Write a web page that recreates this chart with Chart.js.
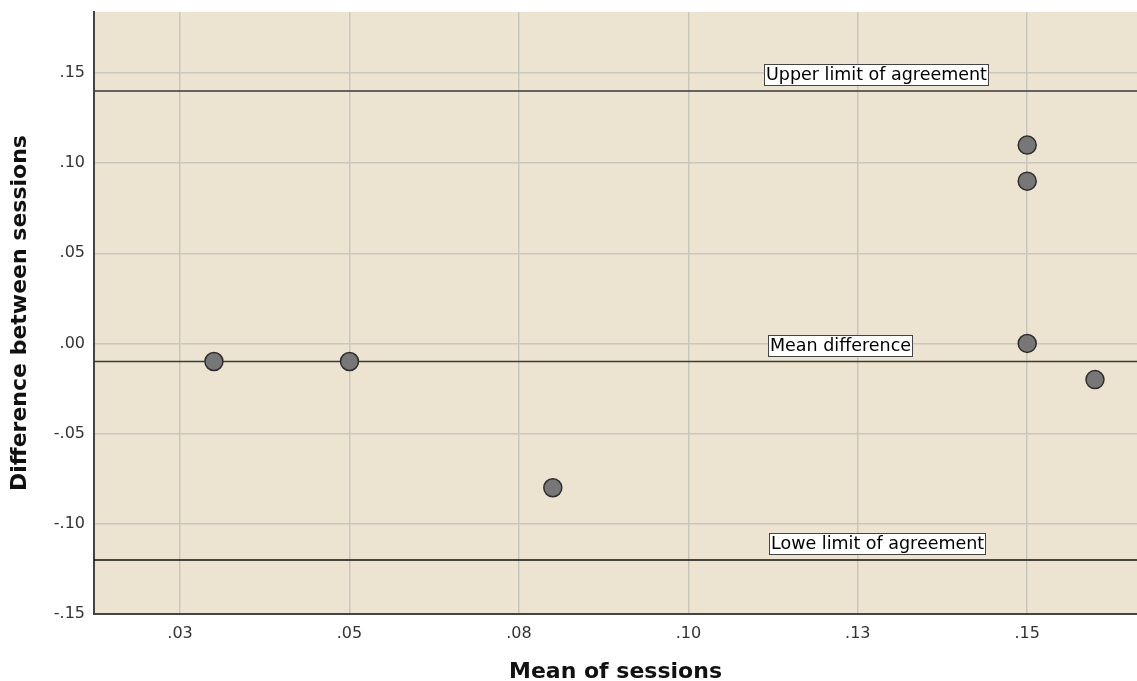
<!DOCTYPE html>
<html>
<head>
<meta charset="utf-8">
<script src="https://cdn.jsdelivr.net/npm/chart.js@4.4.0/dist/chart.umd.min.js"></script>
<style>
  html, body { margin: 0; padding: 0; background: #fff; }
  #wrap { width: 1137px; height: 681px; position: relative; }
</style>
</head>
<body>
<div id="wrap"><canvas id="mainChart"></canvas></div>
<script>
// === DATA ===
const meanValues = [0.03, 0.05, 0.08, 0.15, 0.15, 0.15, 0.16];
const diffValues = [-0.01, -0.01, -0.08, 0.11, 0.09, 0.00, -0.02];

const refNames = ['Upper limit of agreement', 'Mean difference', 'Lowe limit of agreement'];
const refValues = [0.14, -0.01, -0.12];
const refLabelX = [0.1112, 0.1118, 0.1119];

const xTickValues = [0.025, 0.05, 0.075, 0.10, 0.125, 0.15];
const xTickLabels = ['.03', '.05', '.08', '.10', '.13', '.15'];
const yTickValues = [-0.15, -0.10, -0.05, 0.00, 0.05, 0.10, 0.15];
const yTickLabels = ['-.15', '-.10', '-.05', '.00', '.05', '.10', '.15'];

const xMin = 0.0123, xMax = 0.1662;
const yMin = -0.15, yMax = 0.1838;

const FONT = "'DejaVu Sans', sans-serif";

// === DATASETS ===
const points = meanValues.map((m, i) => ({ x: m, y: diffValues[i] }));

const refLines = refValues.map((v, i) => ({
  type: 'line',
  label: refNames[i],
  data: [{ x: xMin, y: v }, { x: xMax, y: v }],
  borderColor: i === 2 ? '#111' : '#3a3a3a',
  borderWidth: 1.5,
  pointRadius: 0,
  fill: false,
  order: 2
}));

// nền vùng vẽ
const areaBg = {
  id: 'areaBg',
  beforeDraw(chart) {
    const { ctx, chartArea: a } = chart;
    ctx.save();
    ctx.fillStyle = '#ece4d0';
    ctx.fillRect(a.left, a.top, a.right - a.left, a.bottom - a.top);
    ctx.restore();
  }
};

// nhãn các đường tham chiếu
const refLabels = {
  id: 'refLabels',
  afterDatasetsDraw(chart) {
    const { ctx, scales: { x, y } } = chart;
    ctx.save();
    ctx.font = '17.5px ' + FONT;
    ctx.textBaseline = 'middle';
    refValues.forEach((v, i) => {
      const px = Math.round(x.getPixelForValue(refLabelX[i]));
      const py = y.getPixelForValue(v);
      const w = Math.round(ctx.measureText(refNames[i]).width + 3);
      const h = 21;
      const top = Math.round(py - 6 - h);
      ctx.fillStyle = '#fff';
      ctx.fillRect(px + 0.5, top + 0.5, w, h);
      ctx.strokeStyle = '#444';
      ctx.lineWidth = 1;
      ctx.strokeRect(px + 0.5, top + 0.5, w, h);
      ctx.fillStyle = '#000';
      ctx.fillText(refNames[i], px + 2, top + h / 2 + 1);
    });
    ctx.restore();
  }
};

const ctx = document.getElementById('mainChart').getContext('2d');
new Chart(ctx, {
  type: 'scatter',
  data: {
    datasets: [
      {
        label: 'Sessions',
        data: points,
        backgroundColor: '#777777',
        borderColor: '#2e2e2e',
        borderWidth: 1.5,
        pointRadius: 9,
        order: 1
      },
      ...refLines
    ]
  },
  options: {
    responsive: true,
    maintainAspectRatio: false,
    animation: false,
    layout: { autoPadding: false, padding: { top: 12, right: 0, left: 0, bottom: 0 } },
    plugins: {
      legend: { display: false },
      tooltip: { enabled: false }
    },
    scales: {
      x: {
        type: 'linear',
        min: xMin,
        max: xMax,
        afterBuildTicks(s) { s.ticks = xTickValues.map(v => ({ value: v })); },
        afterFit(s) { s.height = 67; s.paddingLeft = 0; s.paddingRight = 0; },
        ticks: {
          autoSkip: false,
          maxRotation: 0,
          padding: 10,
          color: '#333',
          font: { family: FONT, size: 16 },
          callback: (v, i) => xTickLabels[i]
        },
        grid: { color: '#c9c6bd', lineWidth: 1.5, drawTicks: false },
        border: { color: '#444', width: 2 },
        title: {
          display: true,
          text: 'Mean of sessions',
          color: '#111',
          font: { family: FONT, size: 22, weight: 'bold', lineHeight: 0.8 },
          padding: { top: 14, bottom: 0 }
        }
      },
      y: {
        type: 'linear',
        min: yMin,
        max: yMax,
        afterBuildTicks(s) { s.ticks = yTickValues.map(v => ({ value: v })); },
        afterFit(s) { s.width = 94; s.paddingTop = 0; s.paddingBottom = 0; },
        ticks: {
          autoSkip: false,
          padding: 9,
          color: '#333',
          font: { family: FONT, size: 16 },
          callback: (v, i) => yTickLabels[i]
        },
        grid: { color: '#c9c6bd', lineWidth: 1.5, drawTicks: false },
        border: { color: '#444', width: 2 },
        title: {
          display: true,
          text: 'Difference between sessions',
          color: '#111',
          font: { family: FONT, size: 22, weight: 'bold', lineHeight: 1 },
          padding: { top: 9, bottom: 0 }
        }
      }
    }
  },
  plugins: [areaBg, refLabels]
});
</script>
</body>
</html>
